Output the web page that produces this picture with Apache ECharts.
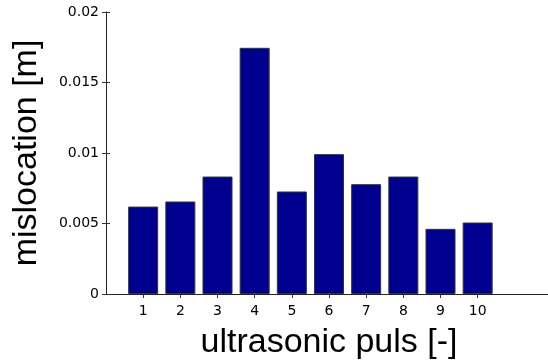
<!DOCTYPE html>
<html>
<head>
<meta charset="utf-8">
<script src="https://cdn.jsdelivr.net/npm/echarts@6/dist/echarts.min.js"></script>
<style>
  html, body { margin: 0; padding: 0; background: #fff; }
  #chart { width: 548px; height: 364px; }
</style>
</head>
<body>
<div id="chart"></div>
<script>
// pulse index and mislocation
const pulses = [1, 2, 3, 4, 5, 6, 7, 8, 9, 10];
const mislocation = [0.0062, 0.00656, 0.00833, 0.01746, 0.00727, 0.00992, 0.00779, 0.00833, 0.00462, 0.00507];
const yTicks = [0, 0.005, 0.01, 0.015, 0.02];

const FONT = '"Liberation Sans", Arial, sans-serif';
const TICK_FONT = '"DejaVu Sans", sans-serif';
const chart = echarts.init(document.getElementById('chart'), null, { renderer: 'canvas' });

const tickStyle = { inside: true, length: 4, lineStyle: { color: '#333', width: 1 } };

chart.setOption({
  backgroundColor: '#fff',
  animation: false,
  grid: { left: 106, top: 12, right: -4, bottom: 70, outerBoundsMode: 'none', containLabel: false },
  xAxis: [
    {
      type: 'value',
      min: 0,
      max: 12,
      interval: 1,
      position: 'bottom',
      name: 'ultrasonic puls [-]',
      nameLocation: 'middle',
      nameGap: 32,
      nameTextStyle: { fontFamily: FONT, fontSize: 34, color: '#000' },
      axisLine: { show: true, onZero: false, lineStyle: { color: '#888', width: 1 } },
      axisTick: Object.assign({ customValues: pulses }, tickStyle),
      axisLabel: { customValues: pulses, fontFamily: TICK_FONT, fontSize: 14, color: '#000', margin: 10 },
      splitLine: { show: false }
    },
    {
      type: 'value',
      min: 0,
      max: 12,
      interval: 1,
      position: 'top',
      axisLine: { show: true, lineStyle: { color: '#222', width: 1 } },
      axisTick: Object.assign({ customValues: pulses }, tickStyle),
      axisLabel: { show: false },
      splitLine: { show: false }
    }
  ],
  yAxis: [
    {
      type: 'value',
      min: 0,
      max: 0.02,
      interval: 0.005,
      position: 'left',
      name: 'mislocation [m]',
      nameLocation: 'middle',
      nameGap: 62,
      nameTextStyle: { fontFamily: FONT, fontSize: 34, color: '#000' },
      axisLine: { show: true, lineStyle: { color: '#888', width: 1 } },
      axisTick: Object.assign({ customValues: yTicks }, tickStyle),
      axisLabel: {
        fontFamily: TICK_FONT, fontSize: 14, color: '#000', margin: 7,
        formatter: (v) => String(+v.toFixed(3))
      },
      splitLine: { show: false }
    },
    {
      type: 'value',
      min: 0,
      max: 0.02,
      interval: 0.005,
      position: 'right',
      axisLine: { show: true, lineStyle: { color: '#222', width: 1 } },
      axisTick: tickStyle,
      axisLabel: { show: false },
      splitLine: { show: false }
    }
  ],
  series: [
    {
      type: 'bar',
      xAxisIndex: 0,
      yAxisIndex: 0,
      barWidth: 30,
      data: pulses.map((p, i) => [p, mislocation[i]]),
      itemStyle: { color: '#00008f', borderColor: '#333', borderWidth: 1 }
    }
  ]
});
</script>
</body>
</html>
